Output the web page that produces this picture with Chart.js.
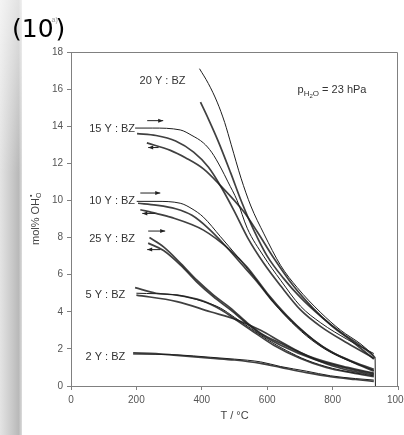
<!DOCTYPE html>
<html>
<head>
<meta charset="utf-8">
<script src="https://cdn.jsdelivr.net/npm/chart.js@4.4.0/dist/chart.umd.min.js"></script>
<style>
  html, body { margin: 0; padding: 0; background: #fff; }
  #wrap { position: relative; width: 404px; height: 435px; overflow: hidden; }
  #strip { position: absolute; left: 0; top: 0; width: 22px; height: 435px;
    background: linear-gradient(to bottom, rgba(255,255,255,0.6), rgba(255,255,255,0) 40%),
                linear-gradient(to right, #e4e4e4, #c9c9c9 55%, #b9b9b9 85%, #dcdcdc); }
  canvas { position: absolute; left: 0; top: 0; }
</style>
</head>
<body>
<div id="wrap">
  <div id="strip"></div>
  <canvas id="chart" width="404" height="435"></canvas>
</div>
<script>
// values: [T in °C, mol% OH]
const y20Model = [[393,17.1],[420,16.3],[447,15.3],[470,14.2],[490,13.0],[520,11.2],[550,9.7],[590,8.2],[641,6.5],[692,5.3],[764,3.95],[825,3.0],[887,2.25],[926,1.65]]
const y20Meas  = [[396,15.3],[420,14.4],[450,13.2],[488,11.5],[520,10.0],[559,8.4],[600,7.0],[650,5.8],[700,4.8],[764,3.75],[825,2.9],[887,2.15],[926,1.6],[930,1.5]]
const yDrop    = [[930,1.5],[931,0]]
const y15Model = [[196,13.9],[250,13.9],[334,13.8],[370,13.5],[405,13.1],[430,12.6],[457,11.8],[480,11.0],[508,10.0],[539,8.5],[589,7.0],[641,5.7],[702,4.3],[764,3.4],[846,2.5],[926,1.75]]
const y15Heat  = [[202,13.6],[260,13.5],[320,13.2],[375,12.6],[420,11.8],[460,10.7],[500,9.4],[540,8.0],[590,6.6],[641,5.4],[702,4.1],[764,3.2],[846,2.3],[926,1.5]]
const y15Cool  = [[232,13.1],[304,12.7],[350,12.3],[405,11.7],[457,10.8],[528,9.4],[570,8.3],[620,6.9],[680,5.4],[740,4.2],[800,3.2],[860,2.4],[926,1.45]]
const y10Model = [[201,9.95],[260,9.95],[334,9.85],[370,9.55],[405,9.1],[457,8.05],[508,7.0],[559,5.9],[610,4.7],[660,3.7],[720,2.7],[780,1.95],[850,1.35],[926,0.85]]
const y10Heat  = [[205,9.85],[260,9.75],[320,9.55],[370,9.2],[420,8.5],[470,7.6],[520,6.6],[570,5.6],[620,4.5],[680,3.4],[740,2.5],[800,1.8],[860,1.3],[926,0.8]]
const y10Cool  = [[212,9.5],[260,9.3],[304,9.1],[405,8.4],[488,7.3],[539,6.4],[600,5.0],[660,3.8],[720,2.8],[780,2.0],[850,1.4],[926,0.9]]
const y25Heat  = [[240,8.0],[283,7.5],[336,6.6],[385,5.7],[436,4.9],[488,4.2],[539,3.4],[580,2.85],[641,2.3],[743,1.5],[846,1.0],[926,0.7]]
const y25Cool  = [[236,7.7],[283,7.3],[336,6.5],[385,5.6],[436,4.8],[488,4.1],[539,3.35],[580,2.8],[641,2.2],[743,1.45],[846,0.95],[926,0.65]]
const y5Model  = [[200,5.0],[324,4.9],[405,4.55],[457,4.2],[500,3.7],[550,3.1],[600,2.5],[660,1.9],[720,1.4],[800,0.95],[870,0.7],[926,0.55]]
const y5Heat   = [[196,5.3],[260,5.0],[324,4.9],[400,4.6],[460,4.1],[510,3.5],[560,2.9],[620,2.2],[700,1.5],[780,1.0],[860,0.7],[926,0.5]]
const y5Cool   = [[200,4.9],[324,4.55],[426,4.0],[508,3.56],[580,3.0],[640,2.4],[702,1.8],[780,1.2],[860,0.8],[926,0.6]]
const y2Model  = [[190,1.72],[324,1.68],[426,1.55],[500,1.45],[580,1.3],[641,1.05],[720,0.8],[794,0.55],[870,0.4],[926,0.32]]
const y2Meas   = [[190,1.78],[260,1.75],[324,1.65],[426,1.5],[500,1.4],[580,1.22],[641,1.0],[720,0.72],[794,0.5],[870,0.35],[926,0.25]]

const xTicks = [0, 200, 400, 600, 800, 1000]
const yTicks = [0, 2, 4, 6, 8, 10, 12, 14, 16, 18]

// curve labels: text, right edge T, y
const curveLabels = [
  ['20 Y : BZ', 350, 16.45],
  ['15 Y : BZ', 196, 13.85],
  ['10 Y : BZ', 196, 9.95],
  ['25 Y : BZ', 196, 7.95],
  ['5 Y : BZ', 166, 4.9],
  ['2 Y : BZ', 166, 1.55]
]
// heating / cooling arrows: T from, T to, y
const arrowsRight = [[233, 282, 14.3], [212, 273, 10.4], [236, 288, 8.35]]
const arrowsLeft = [[268, 236, 12.85], [258, 218, 9.3], [273, 233, 7.35]]

function pts(a) { return a.map(p => ({x: p[0], y: p[1]})) }

function model(a) {
  return { data: pts(a), borderColor: '#1e1e1e', borderWidth: 1, pointRadius: 0, cubicInterpolationMode: 'monotone', fill: false }
}
function meas(a) {
  return { data: pts(a), borderColor: 'rgba(30,30,30,0.85)', borderWidth: 1.7, pointRadius: 0, cubicInterpolationMode: 'monotone', fill: false }
}

const extras = {
  id: 'extras',
  afterDraw(chart) {
    const ctx = chart.ctx
    const xs = chart.scales.x, ys = chart.scales.y
    const a = chart.chartArea
    ctx.save()
    // frame top and right
    ctx.strokeStyle = '#808080'
    ctx.lineWidth = 1
    ctx.beginPath()
    ctx.moveTo(a.left, a.top + 0.5)
    ctx.lineTo(a.right - 0.5, a.top + 0.5)
    ctx.lineTo(a.right - 0.5, a.bottom)
    ctx.stroke()

    ctx.fillStyle = '#333'
    ctx.font = '11px "Liberation Sans", Arial, sans-serif'
    ctx.textBaseline = 'middle'
    ctx.textAlign = 'right'
    curveLabels.forEach(l => ctx.fillText(l[0], xs.getPixelForValue(l[1]), ys.getPixelForValue(l[2])))

    // arrows
    ctx.strokeStyle = '#222'
    ctx.fillStyle = '#222'
    ctx.lineWidth = 1
    const arrow = (x1, x2, y) => {
      const p1 = xs.getPixelForValue(x1), p2 = xs.getPixelForValue(x2), py = ys.getPixelForValue(y)
      const d = Math.sign(p2 - p1)
      ctx.beginPath(); ctx.moveTo(p1, py); ctx.lineTo(p2, py); ctx.stroke()
      ctx.beginPath(); ctx.moveTo(p2, py); ctx.lineTo(p2 - d * 5, py - 2); ctx.lineTo(p2 - d * 5, py + 2); ctx.closePath(); ctx.fill()
    }
    arrowsRight.forEach(r => arrow(r[0], r[1], r[2]))
    arrowsLeft.forEach(r => arrow(r[0], r[1], r[2]))

    // p H2O = 23 hPa
    ctx.fillStyle = '#333'
    ctx.textAlign = 'left'
    ctx.textBaseline = 'alphabetic'
    let px = xs.getPixelForValue(693), py = ys.getPixelForValue(15.8)
    ctx.font = '11px "Liberation Sans", Arial, sans-serif'
    ctx.fillText('p', px, py); px += ctx.measureText('p').width
    ctx.font = '8px "Liberation Sans", Arial, sans-serif'
    ctx.fillText('H', px, py + 3); px += ctx.measureText('H').width
    ctx.font = '6px "Liberation Sans", Arial, sans-serif'
    ctx.fillText('2', px, py + 5); px += ctx.measureText('2').width
    ctx.font = '8px "Liberation Sans", Arial, sans-serif'
    ctx.fillText('O', px, py + 3); px += ctx.measureText('O').width
    ctx.font = '11px "Liberation Sans", Arial, sans-serif'
    ctx.fillText(' = 23 hPa', px, py)

    // x title
    ctx.textAlign = 'center'
    ctx.textBaseline = 'middle'
    ctx.fillStyle = '#444'
    ctx.font = '11px "Liberation Sans", Arial, sans-serif'
    ctx.fillText('T / °C', (a.left + a.right) / 2, 416)

    // y title, rotated
    ctx.save()
    ctx.translate(36, 218)
    ctx.rotate(-Math.PI / 2)
    ctx.textAlign = 'left'
    ctx.textBaseline = 'middle'
    ctx.font = '11px "Liberation Sans", Arial, sans-serif'
    const main = 'mol% OH'
    const w = ctx.measureText(main).width
    let tx = -(w + 7) / 2
    ctx.fillText(main, tx, 0); tx += w
    ctx.font = '7px "Liberation Sans", Arial, sans-serif'
    ctx.fillText('O', tx, 3)
    ctx.fillText('•', tx + 1, -5)
    ctx.restore()

    // panel number
    ctx.fillStyle = '#000'
    ctx.textAlign = 'left'
    ctx.textBaseline = 'alphabetic'
    ctx.font = '25px "DejaVu Sans", sans-serif'
    ctx.fillText('(10', 12, 37)
    const w10 = ctx.measureText('(10').width
    ctx.fillText(')', 12 + w10 + 2, 37)
    ctx.fillStyle = '#999'
    ctx.font = '7px "Liberation Sans", Arial, sans-serif'
    ctx.fillText('a)', 12 + w10 - 2, 22)
    ctx.restore()
  }
}

new Chart(document.getElementById('chart'), {
  type: 'line',
  data: {
    datasets: [
      model(y20Model), meas(y20Meas), model(yDrop),
      model(y15Model), meas(y15Heat), meas(y15Cool),
      model(y10Model), meas(y10Heat), meas(y10Cool),
      meas(y25Heat), meas(y25Cool),
      model(y5Model), meas(y5Heat), meas(y5Cool),
      model(y2Model), meas(y2Meas)
    ]
  },
  options: {
    responsive: false,
    animation: false,
    devicePixelRatio: 1,
    layout: { padding: { top: 52, right: 6, left: 0, bottom: 0 } },
    plugins: { legend: { display: false }, tooltip: { enabled: false } },
    scales: {
      x: {
        type: 'linear', min: 0, max: 1000,
        afterBuildTicks: s => { s.ticks = xTicks.map(v => ({value: v})) },
        afterFit: s => { s.height = 49; s.paddingRight = 0; s.paddingLeft = 0 },
        ticks: { color: '#555', font: { size: 10, family: '"Liberation Sans", Arial, sans-serif' }, padding: 4, maxRotation: 0, autoSkip: false, callback: v => String(v) },
        grid: { drawOnChartArea: false, drawTicks: true, tickLength: 4, color: '#808080' },
        border: { color: '#808080' }
      },
      y: {
        min: 0, max: 18,
        afterBuildTicks: s => { s.ticks = yTicks.map(v => ({value: v})) },
        afterFit: s => { s.width = 71 },
        ticks: { color: '#555', font: { size: 10, family: '"Liberation Sans", Arial, sans-serif' }, padding: 4, autoSkip: false, callback: v => String(v) },
        grid: { drawOnChartArea: false, drawTicks: true, tickLength: 4, color: '#808080' },
        border: { color: '#808080' }
      }
    }
  },
  plugins: [extras]
})
</script>
</body>
</html>
